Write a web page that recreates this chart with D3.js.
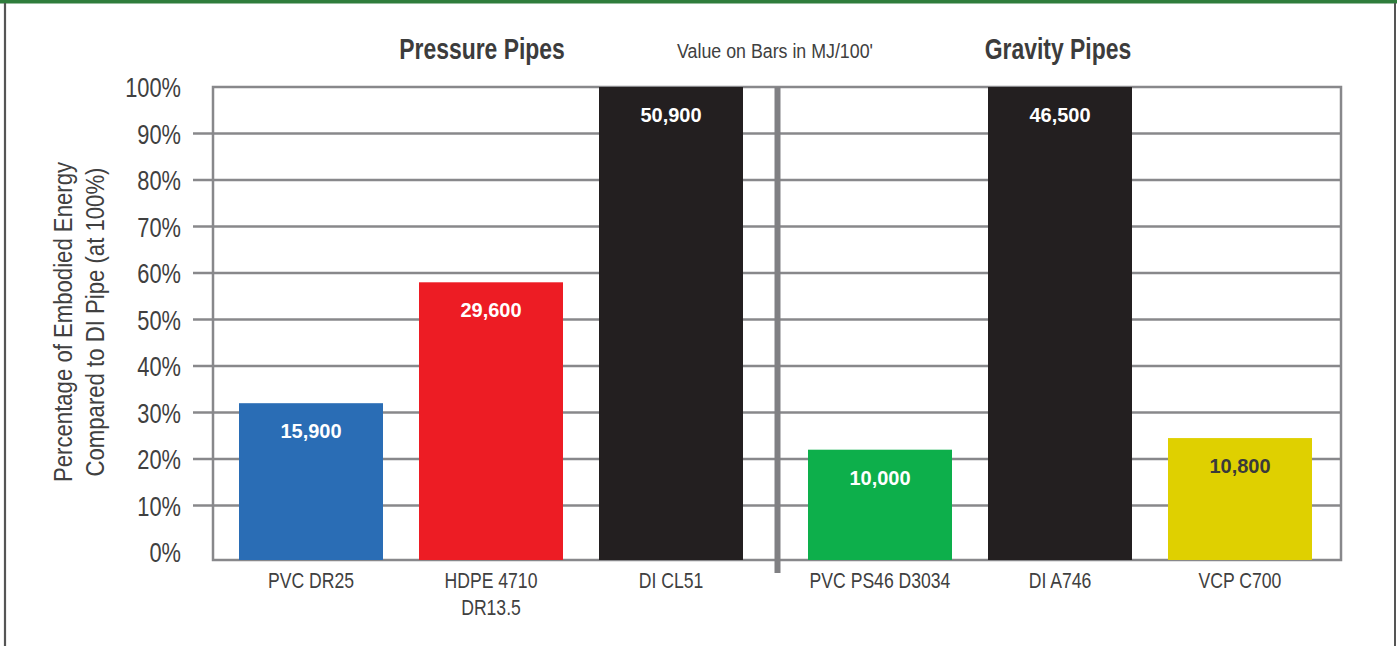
<!DOCTYPE html>
<html>
<head>
<meta charset="utf-8">
<script src="https://cdn.jsdelivr.net/npm/d3@7"></script>
<style>
  html, body { margin: 0; padding: 0; background: #fff; }
  svg { display: block; }
  text { font-family: 'Liberation Sans', Arial, sans-serif; }
</style>
</head>
<body>
<svg id="chart" width="1397" height="646"></svg>
<script>
// Pipe materials, grouped by application
const pressureCats = ["PVC DR25", "HDPE 4710\nDR13.5", "DI CL51"];
const gravityCats  = ["PVC PS46 D3034", "DI A746", "VCP C700"];
// Embodied energy relative to ductile iron (%)
const pressurePct = [32, 58, 100];
const gravityPct  = [22, 100, 24.5];
// Embodied energy in MJ per 100 ft, printed on the bars
const pressureMJ = [15900, 29600, 50900];
const gravityMJ  = [10000, 46500, 10800];
const pressureColors = ["#2a6db5", "#ed1c24", "#231f20"];
const gravityColors  = ["#0daf4b", "#231f20", "#dfd000"];
const yTicks = [0, 10, 20, 30, 40, 50, 60, 70, 80, 90, 100];

const svg = d3.select("#chart");
const W = 1397, H = 646;
const plot = { left: 213, top: 87, right: 1341, bottom: 560 };
const gridColor = "#88888b";
const textColor = "#404040";

// Text squeezed horizontally to give a condensed face
function label(parent, x, y, str, size, sx, opts = {}) {
  return parent.append("text")
    .attr("transform", `translate(${x},${y}) scale(${sx},1)`)
    .attr("text-anchor", opts.anchor || "middle")
    .attr("font-size", size)
    .attr("font-weight", opts.weight || "normal")
    .attr("fill", opts.fill || textColor)
    .text(str);
}

// Page frame
svg.append("rect").attr("x", 0).attr("y", 0).attr("width", W).attr("height", 3.5).attr("fill", "#2f7d3c");
svg.append("line").attr("x1", 5).attr("x2", 5).attr("y1", 3).attr("y2", H)
  .attr("stroke", "#555").attr("stroke-width", 2.2);
svg.append("line").attr("x1", 1395).attr("x2", 1395).attr("y1", 3).attr("y2", H)
  .attr("stroke", "#555").attr("stroke-width", 2);

const y = d3.scaleLinear().domain([0, 100]).range([552, plot.top]);

// Horizontal gridlines with left ticks
svg.append("g").selectAll("line")
  .data(yTicks.filter(t => t > 0 && t < 100))
  .join("line")
  .attr("x1", 193).attr("x2", plot.right)
  .attr("y1", d => y(d)).attr("y2", d => y(d))
  .attr("stroke", gridColor).attr("stroke-width", 2.5);

// Plot frame
svg.append("rect")
  .attr("x", plot.left).attr("y", plot.top)
  .attr("width", plot.right - plot.left).attr("height", plot.bottom - plot.top)
  .attr("fill", "none").attr("stroke", gridColor).attr("stroke-width", 2.5);

// Y tick labels
const tickG = svg.append("g");
yTicks.forEach(t => label(tickG, 181, y(t) + 10, t + "%", 28, 0.78, { anchor: "end" }));

// Band scales for the two groups
const xP = d3.scaleBand().domain(pressureCats).range([221, 761]).paddingInner(0.2).paddingOuter(0.1);
const xG = d3.scaleBand().domain(gravityCats).range([790, 1330]).paddingInner(0.2).paddingOuter(0.1);

function drawGroup(cats, pct, mj, colors, x) {
  const data = cats.map((c, i) => ({ c, p: pct[i], v: mj[i], col: colors[i] }));
  const g = svg.append("g");
  g.selectAll("rect").data(data).join("rect")
    .attr("x", d => x(d.c)).attr("width", x.bandwidth())
    .attr("y", d => y(d.p)).attr("height", d => plot.bottom - y(d.p))
    .attr("fill", d => d.col);
  data.forEach(d => {
    const cx = x(d.c) + x.bandwidth() / 2;
    label(g, cx, y(d.p) + 35, d3.format(",")(d.v), 20, 1.0, {
      weight: "bold",
      fill: d.col === "#dfd000" ? "#3a3a3a" : "#ffffff"
    });
    const t = g.append("text")
      .attr("transform", `translate(${cx},0) scale(0.8,1)`)
      .attr("text-anchor", "middle")
      .attr("font-size", 22)
      .attr("fill", textColor);
    d.c.split("\n").forEach((line, i) => {
      t.append("tspan").attr("x", 0).attr("y", 588 + i * 27).text(line);
    });
  });
}
drawGroup(pressureCats, pressurePct, pressureMJ, pressureColors, xP);
drawGroup(gravityCats, gravityPct, gravityMJ, gravityColors, xG);

// Divider between the groups
svg.append("line").attr("x1", 777.5).attr("x2", 777.5).attr("y1", plot.top).attr("y2", 573)
  .attr("stroke", "#808083").attr("stroke-width", 6);

// Headings
label(svg, 482, 59, "Pressure Pipes", 29, 0.79, { weight: "bold", fill: "#3c3c3c" });
label(svg, 1058, 59, "Gravity Pipes", 29, 0.79, { weight: "bold", fill: "#3c3c3c" });
label(svg, 775, 58, "Value on Bars in MJ/100'", 20, 0.89);

// Y axis title
const yt = svg.append("text")
  .attr("transform", "translate(0,322) rotate(-90) scale(0.852,1)")
  .attr("text-anchor", "middle")
  .attr("font-size", 26).attr("fill", textColor);
yt.append("tspan").attr("x", 0).attr("y", 72).text("Percentage of Embodied Energy");
yt.append("tspan").attr("x", 0).attr("y", 104).text("Compared to DI Pipe (at 100%)");
</script>
</body>
</html>
